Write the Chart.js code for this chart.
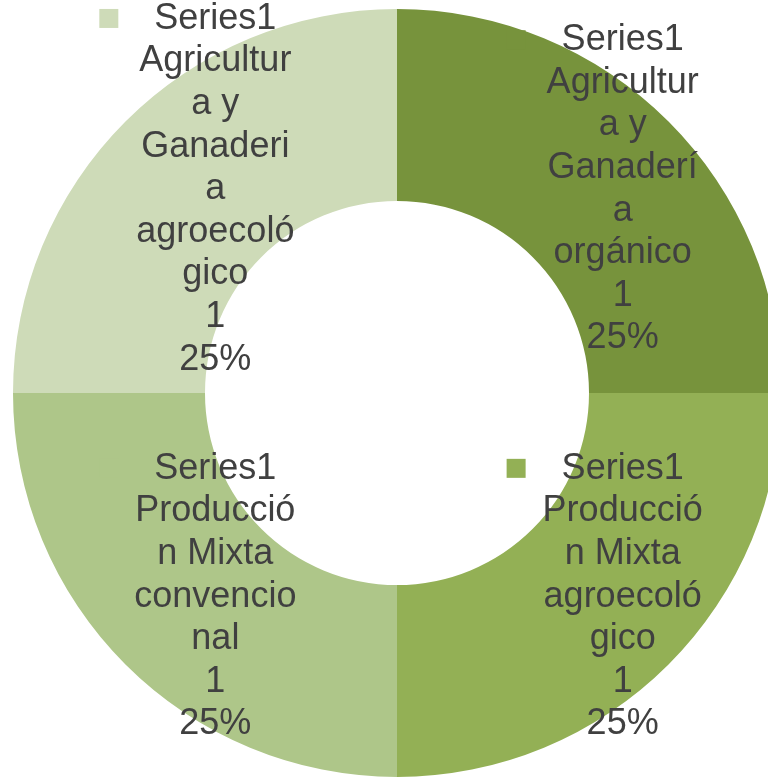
<!DOCTYPE html>
<html>
<head>
<meta charset="utf-8">
<script src="https://cdn.jsdelivr.net/npm/chart.js@4.4.0/dist/chart.umd.min.js"></script>
<style>
  html, body { margin: 0; padding: 0; background: #fff; overflow: hidden; }
  #wrap { position: absolute; left: 0; top: 0; width: 800px; height: 800px; }
</style>
</head>
<body>
<div id="wrap"><canvas id="chartDona"></canvas></div>
<script>
// categorías (ya partidas en líneas como en la imagen), en sentido horario desde arriba
const categorias = [
    ['Agricultur', 'a y', 'Ganaderí', 'a', 'orgánico'],
    ['Producció', 'n Mixta', 'agroecoló', 'gico'],
    ['Producció', 'n Mixta', 'convencio', 'nal'],
    ['Agricultur', 'a y', 'Ganaderi', 'a', 'agroecoló', 'gico']
];
const serieNombre = 'Series1';
const valores = [1, 1, 1, 1];
const colores = ['#77933C', '#93B055', '#AEC689', '#CEDBB8'];

// ==================== ETIQUETAS ====================
const etiquetasPlugin = {
    id: 'etiquetas',
    afterDatasetsDraw(chart) {
        const ctx = chart.ctx;
        const meta = chart.getDatasetMeta(0);
        const total = valores.reduce((a, b) => a + b, 0);
        const lh = 42.6;
        ctx.save();
        ctx.font = '36px "Liberation Sans", Arial, sans-serif';
        ctx.textAlign = 'center';
        ctx.textBaseline = 'middle';
        meta.data.forEach((arc, i) => {
            const pos = arc.tooltipPosition();
            const lineas = [serieNombre].concat(categorias[i], [String(valores[i]), Math.round(valores[i] / total * 100) + '%']);
            const cx = pos.x + 22;
            const y0 = pos.y - (lineas.length - 1) * lh / 2;
            // cuadrito de leyenda
            const w0 = ctx.measureText(lineas[0]).width;
            ctx.fillStyle = colores[i];
            ctx.fillRect(cx - w0 / 2 - 36 - 19, y0 - 10, 19, 19);
            ctx.fillStyle = '#404040';
            lineas.forEach((t, k) => ctx.fillText(t, cx, y0 + k * lh));
        });
        ctx.restore();
    }
};

document.addEventListener("DOMContentLoaded", function() {
    const ctxDona = document.getElementById('chartDona').getContext('2d');
    new Chart(ctxDona, {
        type: 'doughnut',
        data: {
            labels: categorias.map(c => c.join(' ')),
            datasets: [{
                label: serieNombre,
                data: valores,
                backgroundColor: colores,
                borderWidth: 0
            }]
        },
        options: {
            responsive: true,
            maintainAspectRatio: false,
            animation: false,
            cutout: '50%',
            layout: { padding: { left: 13, top: 9, right: 19, bottom: 23 } },
            plugins: {
                legend: { display: false },
                tooltip: { enabled: false }
            }
        },
        plugins: [etiquetasPlugin]
    });
});
</script>
</body>
</html>
